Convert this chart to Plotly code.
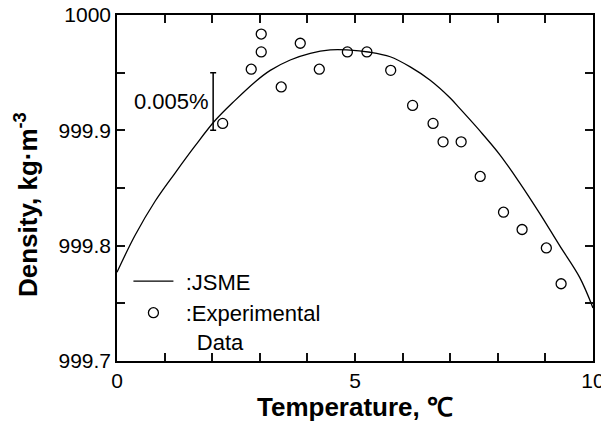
import plotly.graph_objects as go

# JSME reference curve
jsme_temp = [0, 0.38, 0.80, 1.22, 1.64, 2.06, 2.48, 2.90, 3.22, 3.64, 4.06, 4.48, 4.83,
             5.32, 5.74, 6.16, 6.58, 7.00, 7.20, 7.62, 8.04, 8.46, 8.88, 9.30, 9.72, 10.0]
jsme_density = [999.777, 999.809, 999.8385, 999.863, 999.8865, 999.9085, 999.926, 999.942,
                999.952, 999.961, 999.9668, 999.9697, 999.9697, 999.9677, 999.9638, 999.955,
                999.9434, 999.928, 999.919, 999.8997, 999.879, 999.8545, 999.828, 999.800,
                999.7725, 999.746]

# Experimental data
exp_temp = [2.22, 2.82, 3.03, 3.03, 3.45, 3.85, 4.25, 4.84, 5.25, 5.75, 6.21, 6.64,
            6.85, 7.23, 7.63, 8.12, 8.51, 9.02, 9.33]
exp_density = [999.906, 999.953, 999.968, 999.9835, 999.9376, 999.9755, 999.953, 999.968,
               999.968, 999.952, 999.9216, 999.906, 999.890, 999.890, 999.860, 999.829,
               999.814, 999.798, 999.767]

# 0.005% scale bar
bar_temp = [2.02]
bar_low = 999.90
bar_high = 999.95
bar_label = "0.005%"

# tick positions (every tick) and their labels (blank = unlabelled tick)
x_tickvals = [0, 1, 2, 3, 4, 5, 6, 7, 8, 9, 10]
x_ticktext = ["0", "", "", "", "", "5", "", "", "", "", "10"]
y_tickvals = [999.7, 999.75, 999.8, 999.85, 999.9, 999.95, 1000.0]
y_ticktext = ["999.7", "", "999.8", "", "999.9", "", "1000"]

FONT = "Liberation Sans, Arial, sans-serif"
INK = "#111111"

fig = go.Figure()

fig.add_trace(go.Scatter(
    x=jsme_temp, y=jsme_density, mode="lines",
    line=dict(color="black", width=1.3, shape="spline", smoothing=1.0),
    name="\u2004:JSME",
))
fig.add_trace(go.Scatter(
    x=exp_temp, y=exp_density, mode="markers",
    marker=dict(symbol="circle-open", size=10, color="black", line=dict(width=1.3)),
    name="\u2004:Experimental<br>\u2004\u2002Data",
))

bar_mid = (bar_low + bar_high) / 2
bar_half = (bar_high - bar_low) / 2
fig.add_trace(go.Scatter(
    x=bar_temp, y=[bar_mid], mode="markers",
    marker=dict(size=1, color="rgba(0,0,0,0)"),
    error_y=dict(type="data", symmetric=True, array=[bar_half], color="black",
                 thickness=1.5, width=3),
    showlegend=False, hoverinfo="skip",
))
fig.add_annotation(
    x=bar_temp[0], y=bar_mid, text=bar_label, showarrow=False,
    xanchor="right", yanchor="middle", xshift=-2,
    font=dict(family=FONT, size=22, color="black"),
)
# y-axis title
fig.add_annotation(
    xref="paper", yref="paper", x=0, y=0.5, xshift=-91, yshift=-17,
    text="<b>Density, kg\u00b7m<sup>-3</sup></b>", textangle=-90, showarrow=False,
    xanchor="center", yanchor="middle",
    font=dict(family=FONT, size=26, color="black"),
)

fig.update_layout(
    template="simple_white",
    width=593, height=414,
    margin=dict(l=109, r=8, t=7, b=61, autoexpand=False),
    paper_bgcolor="white", plot_bgcolor="white",
    font=dict(family=FONT, color="black"),
    showlegend=True,
    legend=dict(
        x=0.024, y=0.291, xanchor="left", yanchor="top",
        bgcolor="rgba(0,0,0,0)", font=dict(family=FONT, size=22, color="black"),
        itemwidth=40, valign="top", tracegroupgap=0,
    ),
)

fig.update_xaxes(
    range=[0, 10], tickmode="array", tickvals=x_tickvals, ticktext=x_ticktext,
    showline=True, linecolor="black", linewidth=1.5, mirror="ticks",
    ticks="inside", ticklen=8, tickwidth=2, tickcolor=INK,
    showgrid=False, zeroline=False, automargin=False, ticklabeloverflow="allow",
    tickfont=dict(family=FONT, size=21, color="black"),
    title=dict(text="<b>Temperature, \u2103</b>", font=dict(family=FONT, size=26, color="black"),
               standoff=3),
)
fig.update_yaxes(
    range=[999.7, 1000.0], tickmode="array", tickvals=y_tickvals, ticktext=y_ticktext,
    ticksuffix="\u00a0\u00a0",
    showline=True, linecolor="black", linewidth=1.5, mirror="ticks",
    ticks="inside", ticklen=8, tickwidth=2, tickcolor=INK,
    showgrid=False, zeroline=False, automargin=False, ticklabeloverflow="allow",
    tickfont=dict(family=FONT, size=21, color="black"),
    title=dict(text=""),
)

fig.write_html("out.html")
